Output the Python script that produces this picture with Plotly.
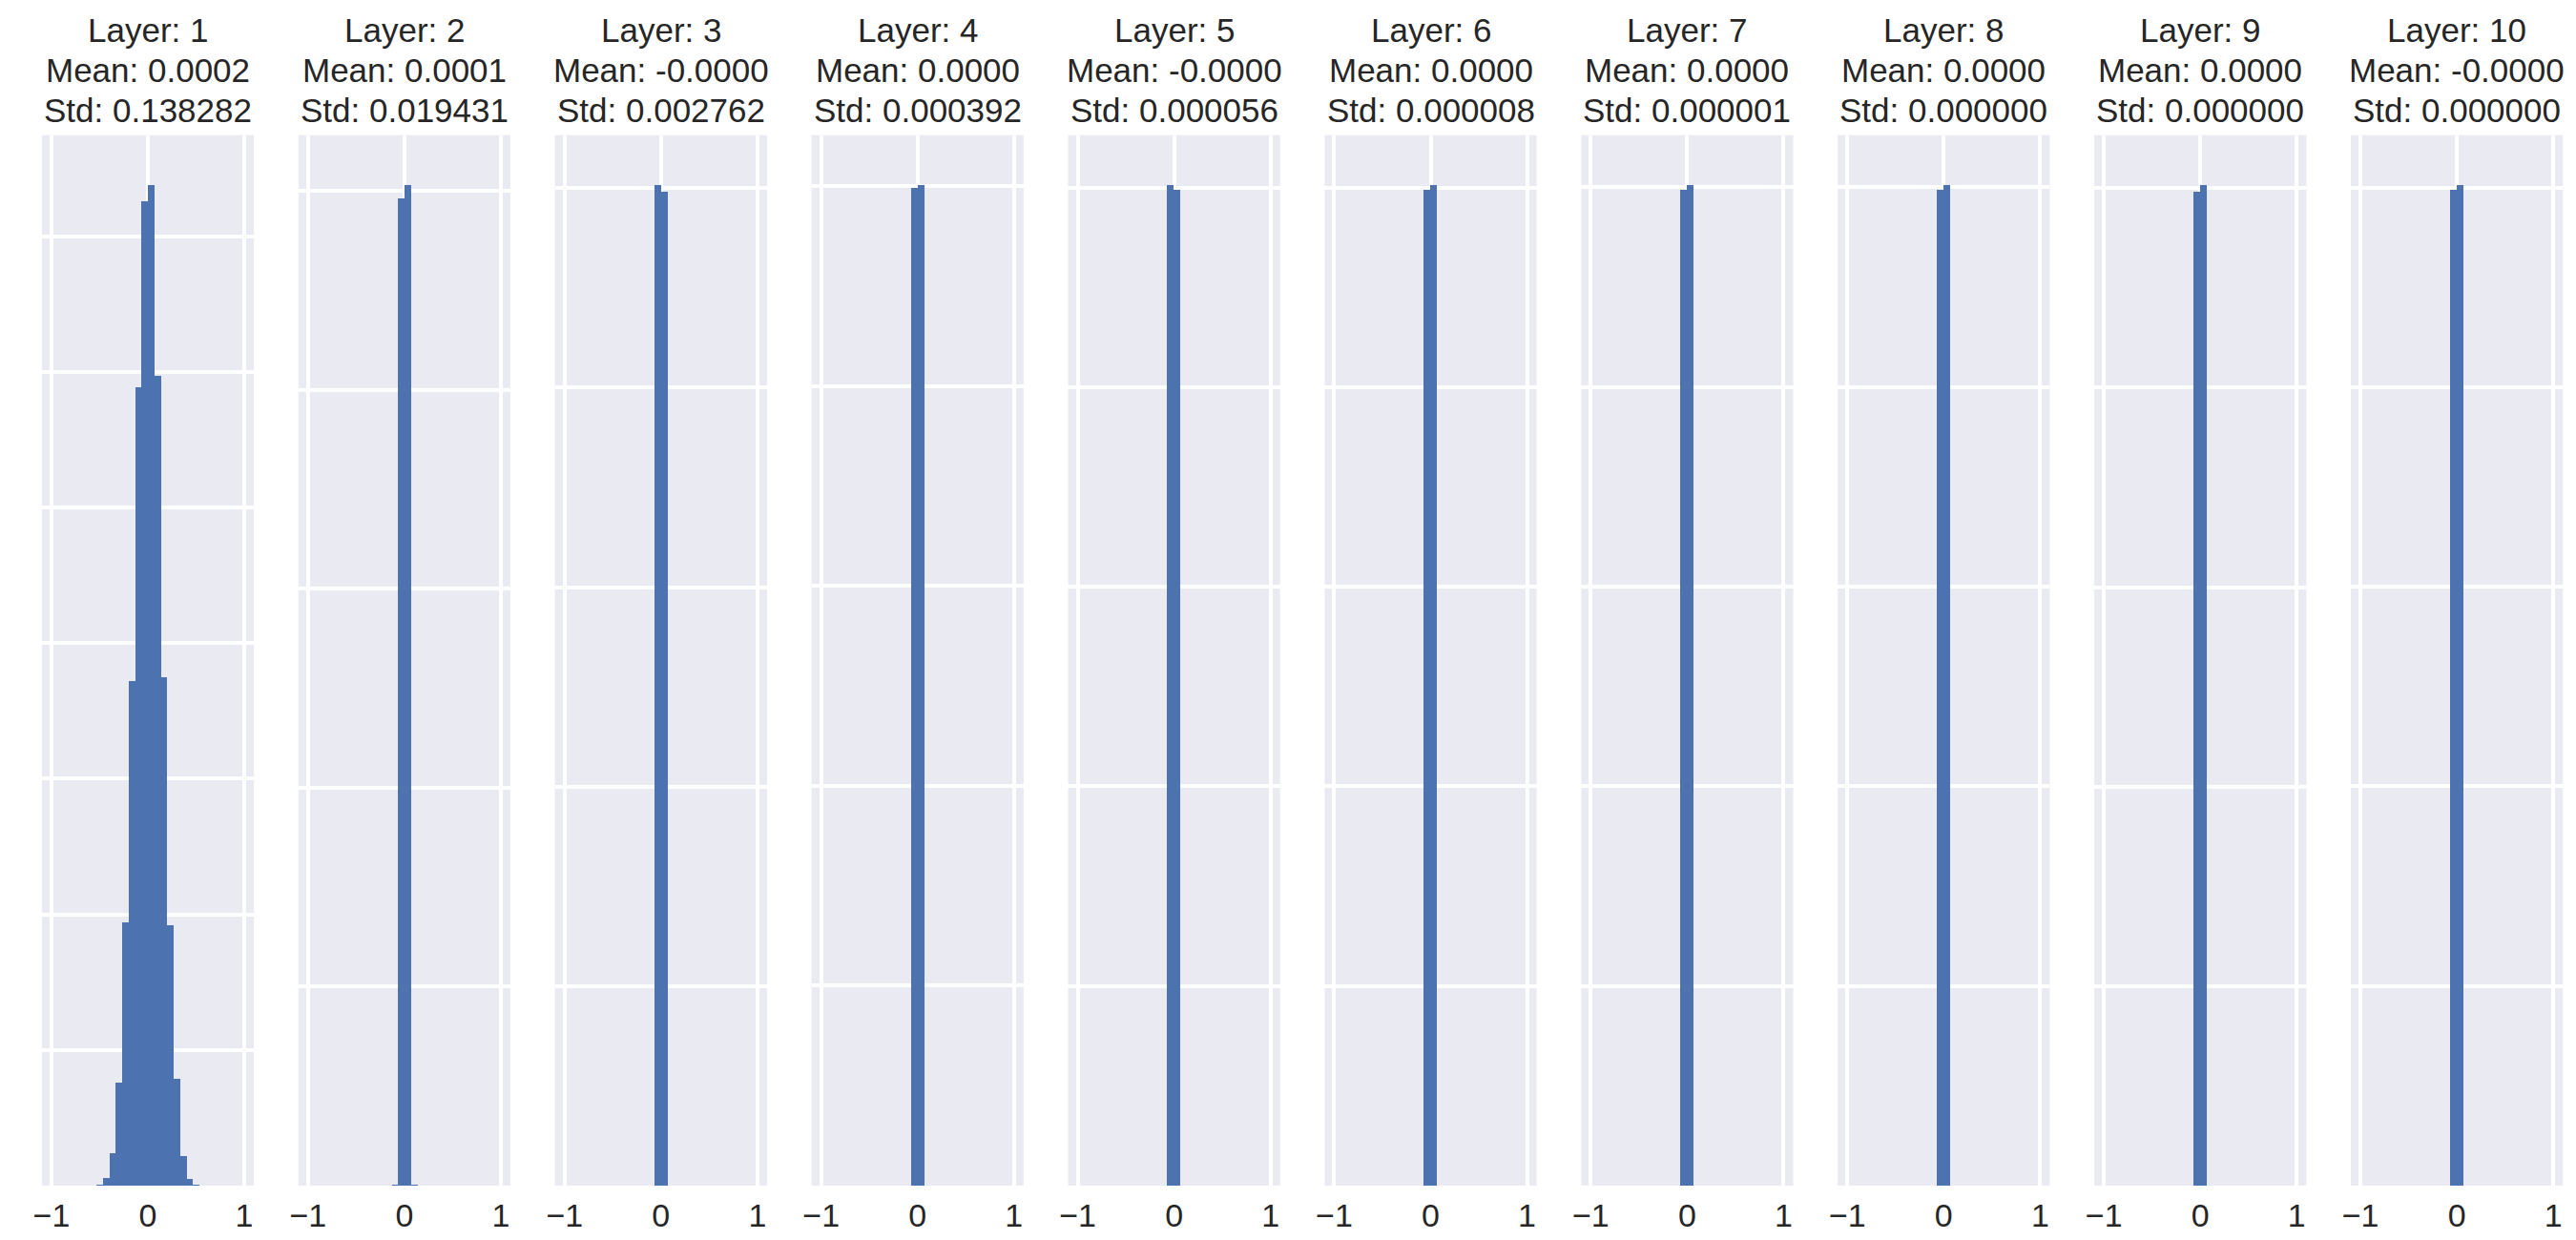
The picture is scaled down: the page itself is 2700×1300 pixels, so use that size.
import plotly.graph_objects as go

# ---------------- data ----------------
LAYERS = ["1", "2", "3", "4", "5", "6", "7", "8", "9", "10"]
MEANS = ["0.0002", "0.0001", "-0.0000", "0.0000", "-0.0000",
         "0.0000", "0.0000", "0.0000", "0.0000", "-0.0000"]
STDS = ["0.138282", "0.019431", "0.002762", "0.000392", "0.000056",
        "0.000008", "0.000001", "0.000000", "0.000000", "0.000000"]

# 30 bins over [-1, 1]
BIN_LEFT = [-1.0, -0.9333, -0.8667, -0.8, -0.7333, -0.6667, -0.6, -0.5333,
            -0.4667, -0.4, -0.3333, -0.2667, -0.2, -0.1333, -0.0667, 0.0,
            0.0667, 0.1333, 0.2, 0.2667, 0.3333, 0.4, 0.4667, 0.5333,
            0.6, 0.6667, 0.7333, 0.8, 0.8667, 0.9333]
BIN_WIDTH = 0.0667

counts_1 = [0, 0, 0, 0, 0, 0, 0, 25, 140, 600, 1900, 4850, 9300, 14725, 18150,
            18440, 14925, 9375, 4800, 1975, 550, 130, 25, 5, 0, 0, 0, 0, 0, 0]
counts_2 = [0] * 13 + [30, 49650, 50290, 30] + [0] * 13
counts_3 = [0] * 14 + [50150, 49850] + [0] * 14
counts_4 = [0] * 14 + [49950, 50050] + [0] * 14
counts_5 = [0] * 14 + [50120, 49880] + [0] * 14
counts_6 = [0] * 14 + [49880, 50120] + [0] * 14
counts_7 = [0] * 14 + [49900, 50100] + [0] * 14
counts_8 = [0] * 14 + [49900, 50100] + [0] * 14
counts_9 = [0] * 14 + [49850, 50150] + [0] * 14
counts_10 = [0] * 14 + [49880, 50120] + [0] * 14
COUNTS = [counts_1, counts_2, counts_3, counts_4, counts_5,
          counts_6, counts_7, counts_8, counts_9, counts_10]
Y_DTICK = [2500] + [10000] * 9

X_TICKS = [-1, 0, 1]
X_TICKTEXT = ["\u22121", "0", "1"]

# ---------------- style ----------------
W, H = 2700, 1300
BAR = "#4C72B0"
BG = "#EAEAF2"
TXT = "#262626"
FONT = "Liberation Sans, Arial, sans-serif"

PANEL_X0 = 35.0
PANEL_STEP = 269.8
PANEL_W = 223.0
PLOT_TOP = 141.7
PLOT_BOT = 1243.0

fig = go.Figure()
layout = dict(
    width=W, height=H,
    margin=dict(l=0, r=0, t=0, b=0),
    paper_bgcolor="white",
    plot_bgcolor=BG,
    bargap=0,
    showlegend=False,
    font=dict(family=FONT, color=TXT),
)

annotations = []
for i, layer in enumerate(LAYERS):
    k = i + 1
    xa = "x" if k == 1 else f"x{k}"
    ya = "y" if k == 1 else f"y{k}"
    centers = [b + BIN_WIDTH / 2 for b in BIN_LEFT]
    fig.add_trace(go.Bar(
        x=centers, y=COUNTS[i], width=BIN_WIDTH,
        marker=dict(color=BAR, line=dict(width=0)),
        xaxis=xa, yaxis=ya, hoverinfo="x+y",
    ))
    x0 = (PANEL_X0 + i * PANEL_STEP) / W
    x1 = (PANEL_X0 + i * PANEL_STEP + PANEL_W) / W
    layout["xaxis" if k == 1 else f"xaxis{k}"] = dict(
        domain=[x0, x1], anchor=ya, range=[-1.1, 1.1],
        tickvals=X_TICKS, ticktext=X_TICKTEXT,
        showgrid=True, gridcolor="white", gridwidth=3.5,
        zeroline=False, showline=False, ticks="",
        tickfont=dict(size=34, color=TXT, family=FONT),
        ticklabelstandoff=8,
    )
    ymax = max(COUNTS[i]) * 1.05
    layout["yaxis" if k == 1 else f"yaxis{k}"] = dict(
        domain=[1 - PLOT_BOT / H, 1 - PLOT_TOP / H], anchor=xa,
        range=[0, ymax], dtick=Y_DTICK[i], tick0=0,
        showgrid=True, gridcolor="white", gridwidth=3.5,
        zeroline=False, showline=False, ticks="", showticklabels=False,
    )
    xc = (x0 + x1) / 2
    lines = [f"Layer: {layer}", f"Mean: {MEANS[i]}", f"Std: {STDS[i]}"]
    for j, txt in enumerate(lines):
        ypx = 32 + j * 41.5
        annotations.append(dict(
            x=xc, y=1 - ypx / H, xref="paper", yref="paper",
            text=txt, showarrow=False, xanchor="center", yanchor="middle",
            font=dict(size=35, color=TXT, family=FONT),
        ))

layout["annotations"] = annotations
fig.update_layout(**layout)
fig.write_html("out.html")
